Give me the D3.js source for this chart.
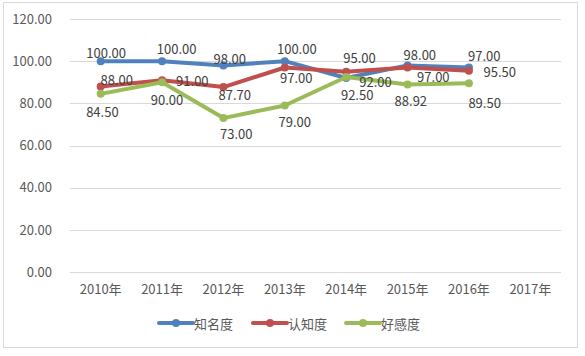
<!DOCTYPE html>
<html>
<head>
<meta charset="utf-8">
<script src="https://cdn.jsdelivr.net/npm/d3@7"></script>
<style>
  html, body { margin: 0; padding: 0; background: #fff; }
  svg { display: block; }
  text { font-family: "Noto Sans CJK SC", "Noto Sans", sans-serif; }
</style>
</head>
<body>
<div id="chart"></div>
<script>
// ---- data ----
const categories = ["2010年", "2011年", "2012年", "2013年", "2014年", "2015年", "2016年", "2017年"];
const seriesNames = ["知名度", "认知度", "好感度"];
const awareness   = [100, 100, 98, 100, 92, 98, 97];
const recognition = [88, 91, 87.7, 97, 95, 97, 95.5];
const favorability = [84.5, 90, 73, 79, 92.5, 88.92, 89.5];
const yTicks = [0, 20, 40, 60, 80, 100, 120];

// ---- layout / style (not data) ----
const colors = ["#4f81bd", "#c0504d", "#9bbb59"];
// label centre offsets relative to each point (manual placement as in the reference)
const labelOffsets = [
  [[5.5,-8.5],[14.6,-12.7],[6.3,-7.3],[12,-12.7],[29.3,3.3],[12.3,-11],[15.3,-11.7]],
  [[16,-6.7],[30.3,0],[11.3,7.6],[11.5,10],[13.3,-14],[25.8,9.4],[30.8,1]],
  [[1.7,17.7],[5,17],[12.8,15.7],[10,16.5],[11,17.6],[3.3,16],[15.7,19.3]]
];

const W = 585, H = 356;
const plot = { left: 70, right: 561, top: 19, bottom: 272 };

const svg = d3.select("#chart").append("svg").attr("width", W).attr("height", H);

// outer border
svg.append("rect").attr("x", 3.5).attr("y", 2.5).attr("width", 574).attr("height", 345)
  .attr("fill", "#fff").attr("stroke", "#d9d9d9").attr("stroke-width", 1);

const x = d3.scaleBand().domain(categories).range([plot.left, plot.right]).padding(0);
const y = d3.scaleLinear().domain([0, 120]).range([plot.bottom, plot.top]);
const cx = c => x(c) + x.bandwidth() / 2;

// gridlines
svg.append("g").selectAll("line").data(yTicks).join("line")
  .attr("x1", plot.left).attr("x2", plot.right)
  .attr("y1", d => Math.round(y(d)) + 0.5).attr("y2", d => Math.round(y(d)) + 0.5)
  .attr("stroke", "#d9d9d9").attr("stroke-width", 1);

// y axis labels
const yAxis = d3.axisLeft(y).tickValues(yTicks).tickFormat(d3.format(".2f")).tickSize(0).tickPadding(0);
const gy = svg.append("g").attr("transform", `translate(52,0)`).call(yAxis);
gy.select(".domain").remove();
gy.selectAll("text").attr("font-size", 13).attr("fill", "#595959")
  .attr("font-family", "'Noto Sans CJK SC', 'Noto Sans', sans-serif");

// x axis labels
const xAxis = d3.axisBottom(x).tickSize(0).tickPadding(0);
const gx = svg.append("g").attr("transform", `translate(0,${plot.bottom + 13})`).call(xAxis);
gx.select(".domain").remove();
gx.selectAll("text").attr("font-size", 13).attr("fill", "#595959")
  .attr("font-family", "'Noto Sans CJK SC', 'Noto Sans', sans-serif");

// series
const allSeries = [awareness, recognition, favorability];
const line = d3.line().x((d, i) => cx(categories[i])).y(d => y(d));

allSeries.forEach((vals, s) => {
  const g = svg.append("g");
  g.append("path").datum(vals).attr("d", line)
    .attr("fill", "none").attr("stroke", colors[s]).attr("stroke-width", 4)
    .attr("stroke-linejoin", "round").attr("stroke-linecap", "round");
  g.selectAll("circle").data(vals).join("circle")
    .attr("cx", (d, i) => cx(categories[i])).attr("cy", d => y(d)).attr("r", 4)
    .attr("fill", colors[s]);
});

// data labels (drawn after all lines)
allSeries.forEach((vals, s) => {
  svg.append("g").selectAll("text").data(vals).join("text")
    .attr("x", (d, i) => cx(categories[i]) + labelOffsets[s][i][0])
    .attr("y", (d, i) => y(d) + labelOffsets[s][i][1])
    .attr("text-anchor", "middle").attr("dominant-baseline", "central")
    .attr("font-size", 13).attr("fill", "#404040")
    .text(d => d3.format(".2f")(d));
});

// legend
const legendX = [159, 253, 346];
const legendY = 323;
seriesNames.forEach((name, s) => {
  const g = svg.append("g").attr("transform", `translate(${legendX[s]},${legendY})`);
  g.append("line").attr("x1", 0).attr("x2", 34).attr("y1", 0).attr("y2", 0)
    .attr("stroke", colors[s]).attr("stroke-width", 4).attr("stroke-linecap", "round");
  g.append("circle").attr("cx", 17).attr("cy", 0).attr("r", 4).attr("fill", colors[s]);
  g.append("text").attr("x", 35).attr("y", 0).attr("dominant-baseline", "central")
    .attr("font-size", 13).attr("fill", "#595959").text(name);
});
</script>
</body>
</html>
